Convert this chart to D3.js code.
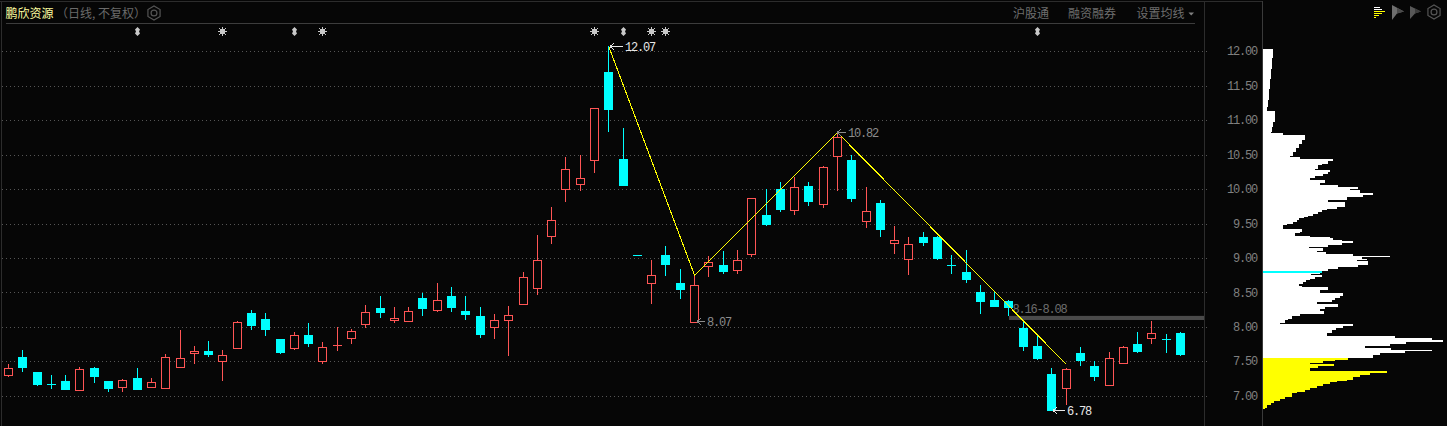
<!DOCTYPE html>
<html><head><meta charset="utf-8">
<style>
html,body{margin:0;padding:0;background:#060606;overflow:hidden}
svg{display:block}
.cn{font-family:"Noto Sans CJK SC","Noto Sans",sans-serif;font-size:12px}
.num{font-family:"Liberation Mono",monospace;font-size:12px;letter-spacing:-1.2px}
</style>
<script src="https://cdnjs.cloudflare.com/ajax/libs/d3/7.8.5/d3.min.js"></script>
</head><body><svg id="c" width="1447" height="426"></svg>
<script>
const opens  = [7.30,7.57,7.35,7.18,7.22,7.08,7.405,7.21,7.125,7.265,7.125,7.11,7.415,7.61,7.645,7.50,7.69,8.195,8.12,7.83,7.68,7.88,7.495,7.735,7.83,8.03,8.275,8.09,8.085,8.42,8.235,8.45,8.23,8.16,7.99,8.09,8.32,8.56,9.31,9.99,10.07,10.41,11.70,10.44,9.04,8.63,9.05,8.64,8.07,8.875,8.90,8.82,9.05,9.62,10.0,9.69,10.05,9.78,10.47,10.42,9.53,9.805,9.215,8.98,9.31,9.30,8.90,8.80,8.51,8.39,8.38,7.98,7.72,7.31,7.11,7.62,7.43,7.155,7.475,7.75,7.83,7.83,7.91];
const highs  = [7.455,7.67,7.35,7.295,7.295,7.425,7.425,7.21,7.25,7.40,7.26,7.61,7.96,7.73,7.80,7.66,8.08,8.25,8.195,7.83,7.93,8.055,7.775,8.0,7.965,8.32,8.45,8.29,8.29,8.49,8.64,8.58,8.45,8.29,8.19,8.30,8.79,9.33,9.74,10.47,10.50,11.17,12.07,10.89,9.04,8.97,9.18,8.84,8.75,9.03,9.107,9.12,9.86,10.0,10.10,10.17,10.11,10.33,10.82,10.49,10.03,9.835,9.47,9.30,9.38,9.325,9.05,9.11,8.61,8.51,8.39,8.10,7.88,7.40,7.41,7.705,7.50,7.63,7.73,7.925,8.085,7.895,7.925];
const lows   = [7.27,7.35,7.135,7.105,7.08,7.07,7.18,7.06,7.05,7.08,7.125,7.11,7.415,7.455,7.57,7.22,7.69,7.96,7.875,7.60,7.66,7.71,7.46,7.65,7.75,7.985,8.13,8.055,8.07,8.16,8.215,8.215,8.10,7.84,7.825,7.58,8.32,8.47,9.21,9.82,9.97,10.23,10.83,10.05,9.04,8.33,8.74,8.41,8.07,8.725,8.77,8.77,9.02,9.47,9.67,9.62,9.76,9.72,9.97,9.81,9.44,9.31,9.06,8.76,9.18,8.975,8.77,8.64,8.19,8.29,8.16,7.65,7.515,6.78,6.87,7.43,7.21,7.14,7.46,7.62,7.75,7.62,7.575];
const closes = [7.39,7.41,7.15,7.17,7.09,7.38,7.28,7.105,7.22,7.08,7.19,7.55,7.54,7.64,7.585,7.58,8.06,8.02,7.95,7.615,7.87,7.75,7.705,7.73,7.935,8.21,8.20,8.125,8.225,8.26,8.385,8.275,8.17,7.88,8.095,8.17,8.72,8.97,9.55,10.29,10.16,11.17,11.15,10.05,9.04,8.75,8.90,8.54,8.605,8.93,8.79,8.97,9.86,9.485,9.70,10.03,9.82,10.31,10.75,9.85,9.67,9.40,9.25,9.19,9.22,8.99,8.89,8.68,8.36,8.29,8.275,7.705,7.53,6.78,7.38,7.50,7.27,7.54,7.70,7.63,7.905,7.82,7.59];
// 1 = red hollow candle, 0 = cyan filled candle
const upFlags = [1,0,0,0,0,1,0,0,1,0,1,1,1,1,0,1,1,0,0,0,1,0,1,1,1,1,0,1,1,0,1,0,0,0,1,1,1,1,1,1,1,1,0,0,0,1,0,0,1,1,0,1,1,0,0,1,0,1,1,0,1,0,1,1,0,0,0,0,0,0,0,0,0,0,1,0,0,1,1,0,1,0,0];
const priceTicks = [12,11.5,11,10.5,10,9.5,9,8.5,8,7.5,7];
const zigzagIdx = [42,48,58,74];
const zigzagVal = [12.07,8.75,10.82,7.46];
const noteIdx = [42,58,48,73];
const noteVal = [12.07,10.82,8.07,6.78];
const noteTxt = ["12.07","10.82","8.07","6.78"];
const noteCol = ["#e8e8e8","#8c8c8c","#8c8c8c","#e8e8e8"];
const markerIdx  = [9,15,20,22,41,43,45,46,72];
const markerKind = ["a","s","a","s","s","a","s","s","a"];
const gapIdx = 70, gapHigh = 8.16, gapLow = 8.08, gapLabel = "8.16-8.08";
const profPrices = [12.04,11.90,11.75,11.60,11.45,11.30,11.20,11.14,11.10,10.98,10.90,10.83,10.82,10.79,10.78,10.72,10.66,10.60,10.54,10.48,10.46,10.44,10.41,10.37,10.35,10.30,10.28,10.25,10.23,10.20,10.16,10.13,10.10,10.07,10.06,10.03,10.00,9.99,9.95,9.92,9.89,9.84,9.82,9.78,9.75,9.72,9.70,9.67,9.65,9.62,9.60,9.58,9.55,9.53,9.50,9.48,9.43,9.42,9.38,9.36,9.33,9.32,9.31,9.29,9.26,9.24,9.22,9.20,9.17,9.14,9.11,9.08,9.06,9.03,9.02,8.99,8.97,8.95,8.91,8.88,8.87,8.84,8.81,8.77,8.75,8.73,8.70,8.68,8.65,8.62,8.59,8.58,8.54,8.49,8.46,8.43,8.40,8.37,8.33,8.30,8.26,8.23,8.19,8.16,8.12,8.10,8.06,8.04,8.02,7.99,7.96,7.91,7.87,7.84,7.81,7.79,7.75,7.72,7.70,7.67,7.65,7.62,7.59,7.56,7.55,7.53,7.505,7.48,7.46,7.43,7.41,7.38,7.355,7.33,7.30,7.27,7.24,7.215,7.20,7.17,7.14,7.12,7.09,7.06,7.04,6.99,6.96,6.93,6.90,6.87,6.83,6.81];
const profVols   = [10,9,8,7,6,5,4,12,11.7,10,9,7.7,19.7,19.7,42,39,36,33,30,27,37,70,65,59,55,52,67,65,60,52,47,62,57,52,75,95,87,97,110,100,84,65,82,82,74,64,59,55,50,45,41,36,34,30,24,20,20,39,37,32,29,47,67,70,79,90,79,65,46,60,54,63,90,127,99,104,94,105,95,80,75,65,57,48,59,52,47,43,40,36,39,65,57,80,77,72,69,54,75,62,57,61,37,29,25,22,17,90,80,73,69,64,132,169,180,143,127,102,128,169,142,117,110,85,85,72,60,47,71,55,47,47,124,107,97,90,84,74,67,60,54,47,42,34,29,22,17,11,8,4,2,0];
const costPrice = 7.55;
const lastPrice = 8.79, lastPriceVol = 59;
const profileMax = 180;

const BG="#060606", RED="#ff5555", CYAN="#00ffff", YEL="#ffff00";
const svg = d3.select("#c");
const n = opens.length;
const x = d3.scaleLinear().domain([0,82]).range([8.5,1180.5]);
const y = d3.scaleLinear().domain([7,12]).range([395.8,51.3]);
const xp = d3.scaleLinear().domain([0,profileMax]).range([1263,1443]);
const px = v => Math.floor(x(v))+.5;

svg.append("rect").attr("width",1447).attr("height",426).attr("fill",BG);

// frame
const frame = svg.append("g").attr("stroke","#2c2c2c").attr("stroke-width",1).attr("shape-rendering","crispEdges");
frame.append("line").attr("x1",0).attr("x2",1262).attr("y1",1.5).attr("y2",1.5);
frame.append("line").attr("x1",1.5).attr("x2",1.5).attr("y1",1).attr("y2",426);
frame.append("line").attr("x1",6).attr("x2",1195).attr("y1",23.5).attr("y2",23.5).attr("stroke","#3c3c3c");
frame.append("line").attr("x1",1204.5).attr("x2",1204.5).attr("y1",1).attr("y2",426);
frame.append("line").attr("x1",1262.5).attr("x2",1262.5).attr("y1",1).attr("y2",426).attr("stroke","#3a3a3a");

// grid
svg.append("g").selectAll("line").data(priceTicks).join("line")
  .attr("x1",2).attr("x2",1207)
  .attr("y1",d=>Math.round(y(d))+.5).attr("y2",d=>Math.round(y(d))+.5)
  .attr("stroke","#555").attr("stroke-dasharray","1 3").attr("shape-rendering","crispEdges");

// axis
const ax = svg.append("g").attr("transform","translate(1257,0)")
  .call(d3.axisLeft(y).tickValues(priceTicks).tickFormat(d3.format(".2f")).tickSize(0).tickPadding(0));
ax.select(".domain").remove();
ax.selectAll("text").attr("class","num").attr("fill","#808080").attr("dy","0.3em");

// gap band
svg.append("rect").attr("x",x(gapIdx)).attr("width",1204-x(gapIdx))
  .attr("y",y(gapHigh)).attr("height",y(gapLow)-y(gapHigh)-1.4).attr("fill","#4a4a4a");
svg.append("text").attr("class","num").attr("x",1012.5).attr("y",313).attr("fill","#6e6e6e").text(gapLabel);

// candles
const idx = d3.range(n);
const g = svg.append("g").attr("shape-rendering","crispEdges");
const col = i => upFlags[i] ? RED : CYAN;
g.selectAll("line.w").data(idx).join("line").attr("class","w")
  .attr("x1",px).attr("x2",px)
  .attr("y1",i=>y(highs[i])).attr("y2",i=>y(lows[i]))
  .attr("stroke",col).attr("stroke-width",1);
g.selectAll("rect.b").data(idx.filter(i=>Math.abs(opens[i]-closes[i])>=0.02)).join("rect").attr("class","b")
  .attr("x",i=>upFlags[i]?px(i)-4:px(i)-4.5)
  .attr("width",i=>upFlags[i]?8:9)
  .attr("y",i=>y(Math.max(opens[i],closes[i])))
  .attr("height",i=>Math.max(1,y(Math.min(opens[i],closes[i]))-y(Math.max(opens[i],closes[i]))))
  .attr("fill",i=>upFlags[i]?BG:CYAN)
  .attr("stroke",i=>upFlags[i]?RED:"none").attr("stroke-width",1);
g.selectAll("line.d").data(idx.filter(i=>Math.abs(opens[i]-closes[i])<0.02)).join("line").attr("class","d")
  .attr("x1",i=>px(i)-4.5).attr("x2",i=>px(i)+4.5)
  .attr("y1",i=>y(closes[i])).attr("y2",i=>y(closes[i]))
  .attr("stroke",col);

// zigzag
svg.append("path").datum(zigzagIdx.map((d,i)=>[d,zigzagVal[i]]))
  .attr("d",d3.line().x(d=>x(d[0])).y(d=>y(d[1])))
  .attr("fill","none").attr("stroke",YEL).attr("stroke-width",1).attr("shape-rendering","crispEdges");

// price notes: arrow tip and text offsets relative to the candle
const tipOff = [1,0,2,1], textOff = [16,11,12,15];
const ng = svg.append("g").selectAll("g").data(noteIdx).join("g")
  .attr("transform",(d,i)=>`translate(${Math.round(x(d))},${Math.round(y(noteVal[i])-.6)+.5})`);
ng.append("path").attr("d",(d,i)=>`M${tipOff[i]},0H${textOff[i]-2}M${tipOff[i]},0l4,-3M${tipOff[i]},0l4,3`).attr("fill","none")
  .attr("stroke",(d,i)=>noteCol[i]).attr("shape-rendering","crispEdges");
ng.append("text").attr("class","num").attr("x",(d,i)=>textOff[i]).attr("dy","0.36em").attr("fill",(d,i)=>noteCol[i]).text((d,i)=>noteTxt[i]);

// top markers
const mg = svg.append("g").selectAll("g").data(markerIdx).join("g")
  .attr("transform",d=>`translate(${px(d)},31.5)`);
mg.each(function(d,i){
  const m=d3.select(this);
  if(markerKind[i]==="a"){
    m.append("path").attr("fill","#c8c8c8")
     .attr("d","M0,-4.5L2.5,-2L1.5,0L2.5,2L0,4.5L-2.5,2L-1.5,0L-2.5,-2Z");
  } else {
    m.append("rect").attr("x",-2.5).attr("y",-2.5).attr("width",5).attr("height",5).attr("fill","#c8c8c8").attr("shape-rendering","crispEdges");
    m.append("path").attr("stroke","#c8c8c8").attr("stroke-width",1).attr("fill","none")
     .attr("d","M0,-4.5V4.5M-4.5,0H4.5M-3.5,-3.5L3.5,3.5M-3.5,3.5L3.5,-3.5");
  }
});

// volume profile
const rows = profPrices.slice(0,-1).map((p,i)=>({p,q:profPrices[i+1],v:profVols[i]}));
svg.append("g").attr("shape-rendering","crispEdges").selectAll("rect").data(rows).join("rect")
  .attr("x",xp(0)).attr("width",d=>xp(d.v)-xp(0))
  .attr("y",d=>y(d.p)).attr("height",d=>y(d.q)-y(d.p)+.3)
  .attr("fill",d=>d.p>costPrice?"#ffffff":YEL);
svg.append("rect").attr("x",xp(0)).attr("y",y(lastPrice)-1).attr("width",xp(lastPriceVol)-xp(0)).attr("height",2).attr("fill",CYAN).attr("shape-rendering","crispEdges");

// header
svg.append("text").attr("class","cn").attr("x",5.5).attr("y",17.5).attr("fill","#ffffa0").text("鹏欣资源");
svg.append("text").attr("class","cn").attr("x",56).attr("y",17.5).attr("fill","#6a6a6a").text("（日线, 不复权）");
const hdr = [["沪股通",1013],["融资融券",1068],["设置均线",1136.5]];
svg.append("g").selectAll("text").data(hdr).join("text").attr("class","cn")
  .attr("x",d=>d[1]).attr("y",17.5).attr("fill","#6e6e6e").text(d=>d[0]);
svg.append("path").attr("d","M1188.5,12.5H1194L1191.2,15.5Z").attr("fill","#808080");

function gear(cx,cy,r,c){
  const h=d3.range(6).map(k=>{const a=Math.PI/3*k+Math.PI/6;return [cx+r*Math.cos(a),cy+r*Math.sin(a)];});
  const s=svg.append("g").attr("fill","none").attr("stroke",c).attr("stroke-width",1.2);
  s.append("path").attr("d",d3.line()(h)+"Z");
  s.append("circle").attr("cx",cx).attr("cy",cy).attr("r",r*.42);
}
gear(154,13,7,"#555");
gear(1434,12,7,"#555");

// profile toolbar
const barsTop=[[1374,1380,7,"#fff"],[1374,1382,9,"#fff"],[1374,1385,11,YEL],[1374,1382,13,YEL],[1374,1379,15,YEL],[1374,1376,17,YEL]];
svg.append("g").attr("shape-rendering","crispEdges").selectAll("line").data(barsTop).join("line")
  .attr("x1",d=>d[0]).attr("x2",d=>d[1]).attr("y1",d=>d[2]+.5).attr("y2",d=>d[2]+.5).attr("stroke",d=>d[3]);
svg.append("path").attr("d","M1392,5L1404,11.5L1397,13.5L1392,20Z").attr("fill","#6e6e6e");
svg.append("path").attr("d","M1397,8L1404,11.5L1397,13.5Z").attr("fill","#4a4a4a");
svg.append("path").attr("d","M1410,6L1421,11.5L1415,13.5L1410,19Z").attr("fill","#585858");
svg.append("path").attr("d","M1415,8.5L1421,11.5L1415,13.5Z").attr("fill","#3c3c3c");
</script></body></html>
